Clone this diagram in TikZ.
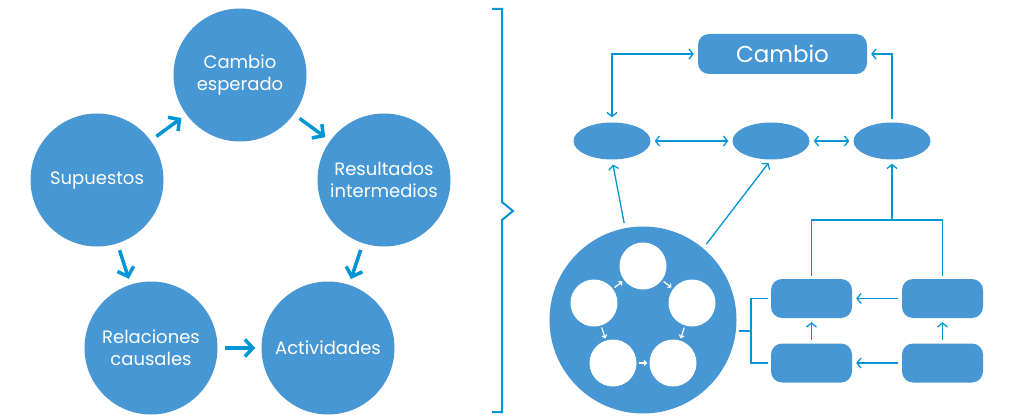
\documentclass[tikz,border=0pt]{standalone}
\usepackage{fontspec}
\setmainfont{Poppins}
\usetikzlibrary{arrows.meta,shapes.geometric}

\definecolor{circblue}{RGB}{70,151,211}
\definecolor{lineblue}{RGB}{0,150,214}

\tikzset{
  bigcirc/.style={circle,fill=circblue,minimum size=133pt,inner sep=0pt,
    text=white,align=center,font=\fontsize{18}{22}\selectfont},
  fatarrow/.style={draw=lineblue,line width=3.5pt,
    -{Straight Barb[length=8pt,width=17pt]},shorten <=7pt,shorten >=6pt},
  thinline/.style={draw=lineblue,line width=1.3pt},
  thinarrow/.style={thinline,-{Straight Barb[length=4pt,width=10pt]}},
  ovalnode/.style={ellipse,fill=circblue,minimum width=77pt,minimum height=37pt,inner sep=0pt},
  blockbox/.style={rectangle,rounded corners=11pt,fill=circblue,minimum width=81pt,
    minimum height=39pt,inner sep=0pt},
  holenode/.style={circle,fill=white,minimum size=47pt,inner sep=0pt},
  whitearrow/.style={draw=white,line width=1.2pt,
    -{Straight Barb[length=2.5pt,width=5pt]},shorten <=2pt,shorten >=2pt}
}

\begin{document}
\begin{tikzpicture}[x=1pt,y=-1pt]
  \useasboundingbox (0,0) rectangle (1023,417);

  % cycle on the left
  \node[bigcirc] (cambioesp) at (240,75) {Cambio\\esperado};
  \node[bigcirc] (supuestos) at (97,180) {Supuestos};
  \node[bigcirc] (resultados) at (384,180) {Resultados\\intermedios};
  \node[bigcirc] (relaciones) at (151,348) {Relaciones\\causales};
  \node[bigcirc] (actividades) at (328,348) {Actividades};
  \draw[fatarrow] (supuestos) -- (cambioesp);
  \draw[fatarrow] (cambioesp) -- (resultados);
  \draw[fatarrow] (resultados) -- (actividades);
  \draw[fatarrow] (supuestos) -- (relaciones);
  \draw[fatarrow] (relaciones) -- (actividades);

  % brace
  \draw[lineblue,line width=2pt] (492,9) -- (502,9) -- (502,202) -- (513,211)
    -- (502,220) -- (502,412) -- (492,412);

  % top of the right part
  \node[rectangle,rounded corners=11pt,fill=circblue,minimum width=169pt,
    minimum height=40pt,text=white,font=\fontsize{23}{28}\selectfont] (cambio) at (782.5,54) {Cambio};
  \node[ovalnode] (ovl) at (612,141) {};
  \node[ovalnode] (ovm) at (771,141) {};
  \node[ovalnode] (ovr) at (892,141) {};
  \draw[thinarrow,{Straight Barb[length=4pt,width=10pt]}-{Straight Barb[length=4pt,width=10pt]},
    shorten <=4pt,shorten >=5pt] (cambio.west) -| (ovl.north);
  \draw[thinarrow,{Straight Barb[length=4pt,width=10pt]}-{Straight Barb[length=4pt,width=10pt]},
    shorten <=4pt,shorten >=4pt] (ovl) -- (ovm);
  \draw[thinarrow,{Straight Barb[length=4pt,width=10pt]}-{Straight Barb[length=4pt,width=10pt]},
    shorten <=4pt,shorten >=4pt] (ovm) -- (ovr);
  \draw[thinarrow,shorten <=3pt,shorten >=4pt] (ovr.north) |- (cambio.east);

  % wheel
  \node[circle,fill=circblue,minimum size=187pt,inner sep=0pt] (wheel) at (643,320) {};
  \node[holenode] (wtop) at (643,266) {};
  \node[holenode] (wleft) at (594,303) {};
  \node[holenode] (wright) at (692,303) {};
  \node[holenode] (wbl) at (613,363) {};
  \node[holenode] (wbr) at (673,363) {};
  \draw[whitearrow] (wleft) -- (wtop);
  \draw[whitearrow] (wtop) -- (wright);
  \draw[whitearrow] (wright) -- (wbr);
  \draw[whitearrow] (wleft) -- (wbl);
  \draw[whitearrow] (wbl) -- (wbr);
  \draw[thinarrow,shorten <=5pt,shorten >=5pt] (wheel.101) -- (ovl.south);
  \draw[thinarrow,shorten <=5pt,shorten >=4pt] (wheel.50) -- (ovm.south);

  % blocks
  \node[blockbox] (blk1) at (811.5,298.5) {};
  \node[blockbox] (blk2) at (942.5,298.5) {};
  \node[blockbox] (blk3) at (811.5,363) {};
  \node[blockbox] (blk4) at (942.5,363) {};
  \coordinate (fork) at (892,220);
  \draw[thinarrow,shorten >=4pt] (fork) -- (ovr.south);
  \draw[thinline] ([yshift=3pt]blk1.north) |- (fork) -| ([yshift=3pt]blk2.north);
  \draw[thinarrow,shorten <=4pt,shorten >=4pt] (blk2) -- (blk1);
  \draw[thinarrow,shorten <=4pt,shorten >=4pt] (blk4) -- (blk3);
  \draw[thinarrow,shorten <=3pt,shorten >=4pt] (blk3) -- (blk1);
  \draw[thinarrow,shorten <=3pt,shorten >=4pt] (blk4) -- (blk2);
  \coordinate (join) at (751,331);
  \draw[thinline,shorten <=2pt] (wheel.east |- join) -- (join);
  \draw[thinline] ([xshift=-3pt]blk1.west) -| (join) |- ([xshift=-3pt]blk3.west);
\end{tikzpicture}
\end{document}
